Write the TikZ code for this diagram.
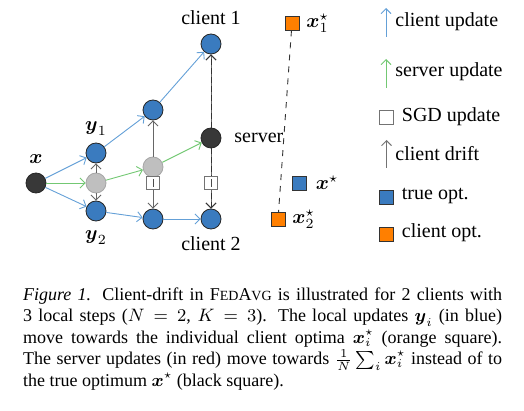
\documentclass[tikz,border=0pt]{standalone}
\usepackage{amsmath}
\usepackage{fontspec}
\setmainfont{Liberation Serif}
\usetikzlibrary{positioning,arrows.meta}

\definecolor{optblue}{RGB}{58,123,191}
\definecolor{updblue}{RGB}{100,160,215}
\definecolor{updgreen}{RGB}{115,200,115}
\definecolor{optorange}{RGB}{255,127,0}
\newcommand{\fedavgname}{F{\fontsize{7}{8}\selectfont ED}A{\fontsize{7}{8}\selectfont VG}}

\begin{document}
\begin{tikzpicture}[
    x=0.5pt, y=-0.5pt,
    font=\fontsize{10}{12}\selectfont,
    pt/.style={circle, draw=black!85, minimum size=10pt, inner sep=0pt, line width=0.4pt},
    bluept/.style={pt, fill=optblue},
    darkpt/.style={pt, fill=black!78},
    graypt/.style={pt, draw=black!35, fill=black!25},
    sgdbox/.style={draw=black!55, fill=white, minimum size=6.5pt, inner sep=0pt, line width=0.5pt},
    optbox/.style={draw=black!80, minimum size=7pt, inner sep=0pt, line width=0.4pt},
    clientupd/.style={-{Straight Barb[length=2.5pt]}, updblue, line width=0.45pt},
    serverupd/.style={-{Straight Barb[length=2.5pt]}, updgreen, line width=0.45pt},
    drift/.style={-{Straight Barb[length=2.5pt]}, black!60, line width=0.45pt},
    srvdrift/.style={drift, postaction={draw=black!80, dash pattern=on 3pt off 1.5pt}}
]
\useasboundingbox (0,0) rectangle (524,411);

% local steps
\node[darkpt] (x) at (36,183) {};
\node[graypt] (g1) at (96,183) {};
\node[bluept] (y1) at (96,153) {};
\node[bluept] (y2) at (96,211) {};
\node[graypt] (g2) at (153,167) {};
\node[bluept] (a2) at (153,110) {};
\node[bluept] (b2) at (153,219) {};
\node[bluept] (c1) at (211,44) {};
\node[darkpt] (s) at (211,138) {};
\node[bluept] (c2) at (211,219) {};

\node[above=1pt of x] (xlab) {$\boldsymbol{x}$};
\node[above=0pt of y1] (y1lab) {$\boldsymbol{y}_1$};
\node[below=1pt of y2] (y2lab) {$\boldsymbol{y}_2$};
\node[above=1pt of c1] (c1lab) {client 1};
\node[below=0pt of c2] (c2lab) {client 2};
\node[right=3pt of s] (slab) {server};

\draw[clientupd] (x) -- (y1);
\draw[clientupd] (x) -- (y2);
\draw[serverupd] (x) -- (g1);
\draw[drift] (g1) -- (y1);
\draw[drift] (g1) -- (y2);
\draw[clientupd] (y1) -- (a2);
\draw[clientupd] (y2) -- (b2);
\draw[serverupd] (g1) -- (g2);
\draw[drift] (g2) -- (a2);
\draw[drift] (g2) -- (b2);
\draw[clientupd] (a2) -- (c1);
\draw[clientupd] (b2) -- (c2);
\draw[serverupd] (g2) -- (s);
\draw[srvdrift] (s) -- (c1);
\draw[srvdrift] (s) -- (c2);

\node[sgdbox] (q1) at (153,183) {};
\node[sgdbox] (q2) at (211,183) {};
\draw[black!70, line width=0.45pt] (q1.center) ++(0,-4) -- ++(0,8);
\draw[black!70, line width=0.45pt] (q2.center) ++(0,-4) -- ++(0,8);

% optima
\node[optbox, fill=optorange] (o1) at (292,23) {};
\node[optbox, fill=optblue] (ostar) at (299.5,183) {};
\node[optbox, fill=optorange] (o2) at (278,219.5) {};
\draw[black!80, dashed, line width=0.45pt] (o1) -- (o2);
\node[right=0pt of o1] (o1lab) {$\boldsymbol{x}_1^\star$};
\node[right=1pt of ostar] (ostarlab) {$\boldsymbol{x}^\star$};
\node[right=0pt of o2] (o2lab) {$\boldsymbol{x}_2^\star$};

% legend
\coordinate (l1a) at (386,37);
\coordinate (l1b) at (386,8);
\coordinate (l2a) at (386,88);
\coordinate (l2b) at (386,59);
\coordinate (l4a) at (386.5,168);
\coordinate (l4b) at (386.5,140);
\draw[clientupd] (l1a) -- (l1b);
\draw[serverupd] (l2a) -- (l2b);
\draw[drift, black!55] (l4a) -- (l4b);
\node[sgdbox, minimum size=7pt] (lsgd) at (386.3,117.5) {};
\node[optbox, fill=optblue] (ltrue) at (386,197) {};
\node[optbox, fill=optorange] (lclient) at (386,234) {};
\node[anchor=west, inner sep=0pt] (t1) at (395,21.5) {client update};
\node[anchor=west, inner sep=0pt] (t2) at (395,72) {server update};
\node[anchor=west, inner sep=0pt] (t3) at (401.5,116.5) {SGD update};
\node[anchor=west, inner sep=0pt] (t4) at (395,154) {client drift};
\node[anchor=west, inner sep=0pt] (t5) at (401.5,196) {true opt.};
\node[anchor=west, inner sep=0pt] (t6) at (401.5,233) {client opt.};

% caption
\node[anchor=north west, inner sep=0pt, text width=239.5pt, align=justify,
      font=\fontsize{9}{10.75}\selectfont] (cap) at (22.7,287)
  {\textit{Figure 1.} Client-drift in \fedavgname{} is illustrated for 2 clients with\linebreak
   3 local steps ($N = 2$, $K = 3$). The local updates $\boldsymbol{y}_i$ (in blue)\linebreak
   move towards the individual client optima $\boldsymbol{x}_i^\star$ (orange square).\linebreak
   The server updates (in red) move towards $\frac{1}{N}\sum_i \boldsymbol{x}_i^\star$ instead of to\linebreak
   the true optimum $\boldsymbol{x}^\star$ (black square).};
\end{tikzpicture}
\end{document}
